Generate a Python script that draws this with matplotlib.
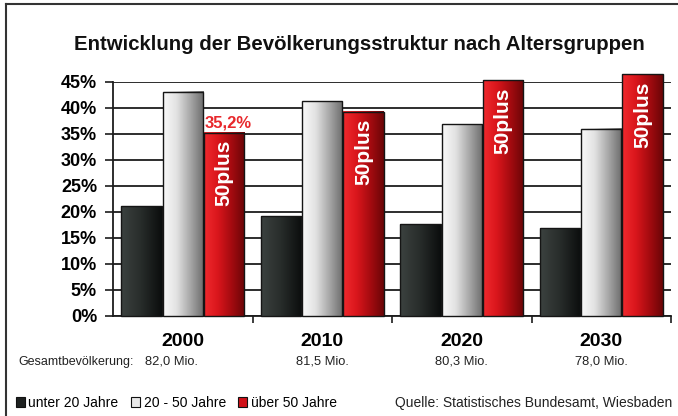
import matplotlib.pyplot as plt
import numpy as np
from matplotlib.colors import LinearSegmentedColormap
from matplotlib.patches import Patch
from matplotlib.lines import Line2D

plt.rcParams['font.family'] = ['Liberation Sans', 'DejaVu Sans']

# data
years = ['2000', '2010', '2020', '2030']
population = ['82,0 Mio.', '81,5 Mio.', '80,3 Mio.', '78,0 Mio.']
under_20 = [21.1, 19.2, 17.6, 16.9]
from_20_to_50 = [43.1, 41.3, 36.9, 36.0]
over_50 = [35.2, 39.3, 45.3, 46.5]
series_labels = ['unter 20 Jahre', '20 - 50 Jahre', 'über 50 Jahre']
yticks = [0, 5, 10, 15, 20, 25, 30, 35, 40, 45]

cmap_dark = LinearSegmentedColormap.from_list('dark', ['#3c4240', '#272c2a', '#0b0d0d'])
cmap_gray = LinearSegmentedColormap.from_list('gray', ['#fafafa', '#e2e2e2', '#a8a8a8', '#6c6c6c'])
cmap_red = LinearSegmentedColormap.from_list('red', ['#f02a2e', '#da161c', '#a50b10', '#6a0507'])
gradient = np.linspace(0, 1, 256).reshape(1, -1)

fig = plt.figure(figsize=(6.78, 4.16), dpi=100)
ax = fig.add_axes([0.1667, 0.2404, 0.823, 0.5625])

x = np.arange(len(years))
width = 0.29
step = 0.295


def gradient_bars(offset, values, cmap):
    bars = ax.bar(x + offset, values, width, facecolor='none', edgecolor='#151515',
                  linewidth=1.0, zorder=4, clip_on=False)
    for b in bars:
        x0, y0 = b.get_x(), b.get_y()
        im = ax.imshow(gradient, cmap=cmap, aspect='auto', interpolation='bicubic',
                       extent=[x0, x0 + b.get_width(), y0, y0 + b.get_height()], zorder=3)
        im.set_clip_on(False)
    return bars


gradient_bars(-step, under_20, cmap_dark)
gradient_bars(0, from_20_to_50, cmap_gray)
red_bars = gradient_bars(step, over_50, cmap_red)

ax.set_xlim(-0.5, len(years) - 0.5)
ax.set_ylim(0, 45)

# horizontal grid
ax.set_yticks(yticks)
ax.set_yticklabels([f'{v}%' for v in yticks], fontsize=13, fontweight='bold')
ax.yaxis.grid(True, color='#1c1c1c', linewidth=1.3)
ax.set_axisbelow(True)
ax.tick_params(axis='y', length=6, width=1.2, pad=5.5, color='#1c1c1c')

ax.set_xticks(x)
ax.set_xticklabels(years, fontsize=14, fontweight='bold')
ax.tick_params(axis='x', length=0, pad=12)
ax.set_xticks(np.arange(len(years)) + 0.5, minor=True)
ax.tick_params(axis='x', which='minor', length=5, width=1.2, color='#1c1c1c')

for s in ['top', 'right']:
    ax.spines[s].set_visible(False)
ax.spines['left'].set_linewidth(1.3)
ax.spines['bottom'].set_linewidth(1.3)
ax.spines['left'].set_color('#1c1c1c')
ax.spines['bottom'].set_color('#1c1c1c')

# labels on the red bars
for b in red_bars:
    ax.annotate('50plus', (b.get_x() + b.get_width() / 2, b.get_height()),
                xytext=(0, -5), textcoords='offset points', rotation=90,
                ha='center', va='top', color='white', fontsize=15, fontweight='bold', zorder=6,
                annotation_clip=False)
first = red_bars[0]
ax.annotate('35,2%', (first.get_x() + first.get_width() / 2, first.get_height()),
            xytext=(3, 2), textcoords='offset points', ha='center', va='bottom',
            color='#e8282c', fontsize=12, fontweight='bold', zorder=6)

# population row
pop_y = -(362 - 316) / (316 - 82)
fig.text(18 / 678, 1 - 362 / 416, 'Gesamtbevölkerung:', fontsize=9, va='center', ha='left', color='#222222')
trans = ax.get_xaxis_transform()
pop_x = [-0.08, 1, 2, 3]
for px, p in zip(pop_x, population):
    ax.text(px, pop_y, p, transform=trans, fontsize=9.3, ha='center', va='center', color='#222222')

fig.text(359 / 678, 1 - 45 / 416, 'Entwicklung der Bevölkerungsstruktur nach Altersgruppen',
         fontsize=14.7, fontweight='bold', ha='center', va='center', color='#111111')

handles = [Patch(facecolor='#1e2120', edgecolor='#111111', linewidth=0.8),
           Patch(facecolor='#e8e8e8', edgecolor='#111111', linewidth=0.8),
           Patch(facecolor='#d01018', edgecolor='#111111', linewidth=0.8)]
fig.legend(handles, series_labels, loc='center left', bbox_to_anchor=(16 / 678, 1 - 403 / 416),
           ncol=3, frameon=False, fontsize=10, handlelength=0.65, handleheight=0.65,
           handletextpad=0.25, columnspacing=0.9, borderaxespad=0, borderpad=0)
fig.text(672 / 678, 1 - 403 / 416, 'Quelle: Statistisches Bundesamt, Wiesbaden',
         fontsize=10, ha='right', va='center', color='#222222')

# frame lines of the original graphic
fig.add_artist(Line2D([6 / 678, 1], [1 - 4 / 416, 1 - 4 / 416], color='#333333', linewidth=1.5))
fig.add_artist(Line2D([6 / 678, 6 / 678], [0, 1 - 4 / 416], color='#333333', linewidth=1.5))

fig.savefig('out.png', dpi=100)
